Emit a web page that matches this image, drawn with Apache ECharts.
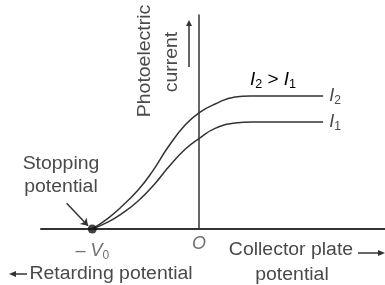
<!DOCTYPE html>
<html>
<head>
<meta charset="utf-8">
<script src="https://cdn.jsdelivr.net/npm/echarts@6/dist/echarts.min.js"></script>
<style>
  html, body { margin: 0; padding: 0; background: #fff; }
  #chart { width: 385px; height: 285px; }
</style>
</head>
<body>
<div id="chart"></div>
<script>
// potential in units of V0, current relative to axis height
var potentialI2 = [-1, -0.85, -0.73, -0.571, -0.44, -0.29, -0.131, 0.009, 0.15, 0.337, 0.478, 1.161]
var currentI2 = [0, 0.051, 0.103, 0.182, 0.267, 0.383, 0.486, 0.546, 0.584, 0.617, 0.621, 0.621]
var potentialI1 = [-1, -0.85, -0.73, -0.571, -0.412, -0.29, -0.131, 0.009, 0.15, 0.337, 0.496, 1.161]
var currentI1 = [0, 0.033, 0.070, 0.131, 0.213, 0.287, 0.373, 0.426, 0.470, 0.495, 0.500, 0.500]
var stoppingPoint = [-1, 0]
var originPoint = [0, 0]

var ink = '#333'
var txt = '#4a4a4a'
var font = '"Liberation Sans", Arial, sans-serif'

function pairs (xs, ys) {
  return xs.map(function (x, i) { return [x, ys[i]] })
}

var subRich = {
  i: { fontStyle: 'italic', fontSize: 18, color: txt, fontFamily: font },
  s: { fontSize: 12, color: txt, fontFamily: font, padding: [9, 0, 0, 0] },
  t: { fontSize: 18, color: txt, fontFamily: font }
}

function label (x, y, text, rot) {
  return {
    type: 'text', x: x, y: y, rotation: rot || 0, scaleX: 1.08,
    style: { text: text, font: '18px ' + font, fill: txt, align: 'center', verticalAlign: 'middle', lineHeight: 23 }
  }
}

var chart = echarts.init(document.getElementById('chart'))

chart.setOption({
  animation: false,
  grid: { left: 41, right: 0, top: 15, bottom: 56 },
  xAxis: {
    type: 'value',
    min: -1.48,
    max: 1.74,
    axisLine: { lineStyle: { color: ink, width: 2 } },
    axisTick: { show: false },
    axisLabel: { show: false },
    splitLine: { show: false }
  },
  yAxis: {
    type: 'value',
    min: 0,
    max: 1,
    axisLine: { show: true, onZero: true, lineStyle: { color: ink, width: 1.5 } },
    axisTick: { show: false },
    axisLabel: { show: false },
    splitLine: { show: false }
  },
  series: [
    {
      name: 'I2',
      type: 'line',
      data: pairs(potentialI2, currentI2),
      smooth: 0.5,
      symbol: 'none',
      lineStyle: { color: ink, width: 1.5 },
      endLabel: { show: true, distance: 6, formatter: '{i|I}{s|2}', rich: subRich }
    },
    {
      name: 'I1',
      type: 'line',
      data: pairs(potentialI1, currentI1),
      smooth: 0.5,
      symbol: 'none',
      lineStyle: { color: ink, width: 1.5 },
      endLabel: { show: true, distance: 6, formatter: '{i|I}{s|1}', rich: subRich }
    },
    {
      type: 'scatter',
      data: [stoppingPoint],
      symbolSize: 9,
      itemStyle: { color: '#111' },
      z: 5,
      label: {
        show: true,
        position: 'bottom',
        distance: 7,
        formatter: '{t|– }{i|V}{s|0}',
        rich: subRich
      },
      markLine: {
        silent: true,
        symbol: ['none', 'arrow'],
        symbolSize: 7,
        label: { show: false },
        lineStyle: { color: ink, width: 1.5, type: 'solid' },
        data: [[{ coord: [-1.24, 0.12] }, { coord: [-1.04, 0.015] }]]
      }
    },
    {
      type: 'scatter',
      data: [originPoint],
      symbolSize: 0,
      label: {
        show: true,
        position: 'bottom',
        distance: 6,
        formatter: '{i|O}',
        rich: subRich
      }
    }
  ],
  graphic: [
    label(145, 61, 'Photoelectric', Math.PI / 2),
    label(172, 62, 'current', Math.PI / 2),
    { type: 'line', shape: { x1: 189, y1: 67, x2: 189, y2: 24 }, style: { stroke: ink, lineWidth: 1.5 } },
    { type: 'polygon', shape: { points: [[186, 26], [192, 26], [189, 20]] }, style: { fill: ink } },
    {
      type: 'text', x: 250, y: 80, scaleX: 1.05,
      style: { text: '{i|I}{s|2}{t| > }{i|I}{s|1}', rich: subRich, verticalAlign: 'middle' }
    },
    label(61, 176, 'Stopping\npotential'),
    label(291, 250, 'Collector plate'),
    { type: 'line', shape: { x1: 358, y1: 253, x2: 380, y2: 253 }, style: { stroke: ink, lineWidth: 1.5 } },
    { type: 'polygon', shape: { points: [[378, 250], [378, 256], [385, 253]] }, style: { fill: ink } },
    label(292, 275, 'potential'),
    { type: 'line', shape: { x1: 14, y1: 274, x2: 27, y2: 274 }, style: { stroke: ink, lineWidth: 1.5 } },
    { type: 'polygon', shape: { points: [[16, 271], [16, 277], [9, 274]] }, style: { fill: ink } },
    label(111, 274, 'Retarding potential')
  ]
})
</script>
</body>
</html>
